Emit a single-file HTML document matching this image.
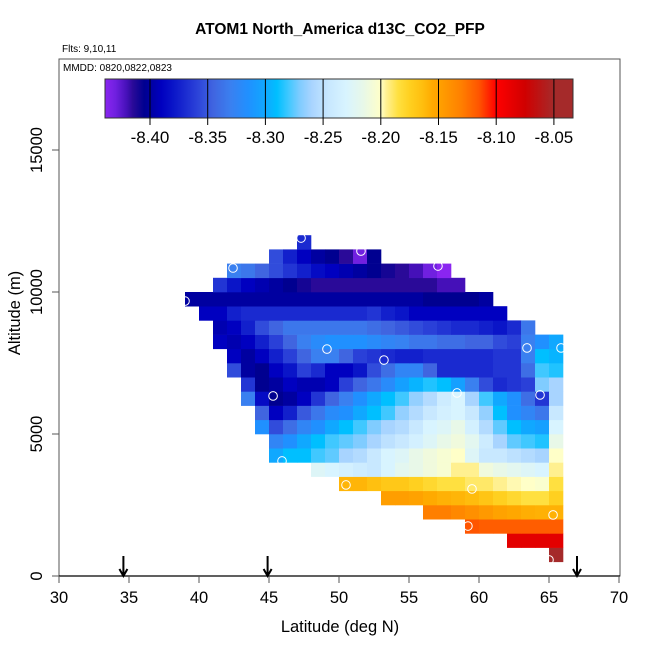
<!DOCTYPE html>
<html><head><meta charset="utf-8"><style>
html,body{margin:0;padding:0;background:#fff;}
svg{display:block;font-family:"Liberation Sans",Arial,sans-serif;}
</style></head><body>
<svg id="chart" width="650" height="650" viewBox="0 0 650 650" xmlns="http://www.w3.org/2000/svg">
<rect width="650" height="650" fill="#fff"/>
<text x="340" y="34" font-size="15.5" font-weight="bold" text-anchor="middle">ATOM1 North_America d13C_CO2_PFP</text>
<text x="62" y="52" font-size="10">Flts: 9,10,11</text>
<g id="cells"></g>
<g id="pts"></g>
<rect x="59" y="59" width="561" height="517" fill="none" stroke="#555" stroke-width="1"/>
<line x1="59" y1="576" x2="620" y2="576" stroke="#000" stroke-width="1.3"/>
<text x="63" y="71" font-size="10">MMDD: 0820,0822,0823</text>
<g id="cbar"></g>
<g id="axes"></g>
<g id="arrows"></g>
<text x="340" y="632" font-size="16.5" text-anchor="middle">Latitude (deg N)</text>
<text transform="translate(20,313) rotate(-90)" font-size="16.5" text-anchor="middle">Altitude (m)</text>
</svg>
<script>
// ---- data ----
const altBinBottoms = [500,1000,1500,2000,2500,3000,3500,4000,4500,5000,5500,6000,6500,7000,7500,8000,8500,9000,9500,10000,10500,11000,11500];
const rowFirstLat = [65,62,59,56,53,50,48,45,45,44,44,43,43,42,42,41,41,40,39,41,42,45,47];
const rowValues = [
 [-8.04],
 [-8.085,-8.085,-8.085,-8.085],
 [-8.115,-8.118,-8.118,-8.118,-8.118,-8.118,-8.118],
 [-8.13,-8.13,-8.135,-8.14,-8.145,-8.15,-8.153,-8.157,-8.158,-8.158],
 [-8.148,-8.148,-8.15,-8.155,-8.158,-8.16,-8.163,-8.168,-8.175,-8.18,-8.185,-8.185,-8.175],
 [-8.16,-8.16,-8.165,-8.17,-8.17,-8.175,-8.18,-8.185,-8.185,-8.19,-8.19,-8.195,-8.198,-8.20,-8.203,-8.185],
 [-8.225,-8.23,-8.235,-8.24,-8.245,-8.23,-8.22,-8.215,-8.21,-8.205,-8.195,-8.195,-8.21,-8.215,-8.22,-8.225,-8.23,-8.195],
 [-8.30,-8.29,-8.29,-8.28,-8.275,-8.26,-8.255,-8.245,-8.23,-8.225,-8.215,-8.21,-8.205,-8.20,-8.225,-8.245,-8.245,-8.25,-8.255,-8.26,-8.20],
 [-8.325,-8.315,-8.30,-8.29,-8.28,-8.275,-8.27,-8.26,-8.25,-8.245,-8.235,-8.225,-8.215,-8.21,-8.22,-8.24,-8.26,-8.275,-8.28,-8.285,-8.215],
 [-8.315,-8.355,-8.34,-8.325,-8.315,-8.30,-8.29,-8.28,-8.27,-8.26,-8.255,-8.245,-8.23,-8.225,-8.215,-8.235,-8.255,-8.275,-8.29,-8.30,-8.305,-8.23],
 [-8.345,-8.39,-8.375,-8.35,-8.335,-8.32,-8.315,-8.30,-8.29,-8.28,-8.265,-8.255,-8.245,-8.235,-8.23,-8.245,-8.265,-8.29,-8.315,-8.325,-8.335,-8.245],
 [-8.33,-8.385,-8.405,-8.40,-8.39,-8.365,-8.345,-8.33,-8.315,-8.30,-8.29,-8.28,-8.265,-8.255,-8.24,-8.23,-8.26,-8.28,-8.30,-8.315,-8.34,-8.365,-8.26],
 [-8.365,-8.405,-8.40,-8.39,-8.395,-8.395,-8.39,-8.36,-8.345,-8.335,-8.32,-8.305,-8.295,-8.285,-8.29,-8.305,-8.33,-8.355,-8.37,-8.365,-8.36,-8.27,-8.26],
 [-8.355,-8.40,-8.405,-8.39,-8.38,-8.36,-8.37,-8.39,-8.39,-8.38,-8.355,-8.34,-8.325,-8.325,-8.345,-8.37,-8.37,-8.37,-8.37,-8.365,-8.365,-8.34,-8.28,-8.285],
 [-8.39,-8.40,-8.39,-8.375,-8.36,-8.345,-8.33,-8.33,-8.345,-8.36,-8.365,-8.37,-8.375,-8.375,-8.37,-8.37,-8.37,-8.37,-8.37,-8.365,-8.365,-8.33,-8.29,-8.295],
 [-8.39,-8.395,-8.39,-8.375,-8.36,-8.345,-8.33,-8.32,-8.315,-8.315,-8.315,-8.32,-8.325,-8.328,-8.335,-8.335,-8.34,-8.34,-8.345,-8.345,-8.355,-8.36,-8.33,-8.315,-8.30],
 [-8.395,-8.39,-8.375,-8.355,-8.345,-8.335,-8.335,-8.335,-8.335,-8.335,-8.335,-8.34,-8.345,-8.35,-8.355,-8.36,-8.365,-8.37,-8.37,-8.375,-8.38,-8.37,-8.335],
 [-8.39,-8.39,-8.375,-8.37,-8.37,-8.37,-8.37,-8.37,-8.37,-8.37,-8.37,-8.37,-8.365,-8.375,-8.38,-8.39,-8.39,-8.39,-8.39,-8.39,-8.39,-8.39],
 [-8.40,-8.40,-8.40,-8.40,-8.40,-8.40,-8.40,-8.40,-8.40,-8.40,-8.40,-8.40,-8.40,-8.40,-8.40,-8.40,-8.40,-8.405,-8.405,-8.405,-8.405,-8.40],
 [-8.365,-8.38,-8.39,-8.395,-8.40,-8.405,-8.41,-8.415,-8.415,-8.415,-8.415,-8.415,-8.415,-8.415,-8.415,-8.415,-8.42,-8.42],
 [-8.33,-8.335,-8.345,-8.355,-8.365,-8.375,-8.385,-8.39,-8.395,-8.40,-8.405,-8.41,-8.415,-8.42,-8.43,-8.44],
 [-8.355,-8.375,-8.39,-8.40,-8.405,-8.415,-8.43,-8.405],
 [-8.37]
];
const pointLats = [47.29,51.57,42.43,57.07,39.0,49.14,53.21,58.43,63.43,65.86,64.36,45.29,45.93,50.5,59.5,65.29,59.21,65.0];
const pointAlts = [11900,11440,10845,10915,9680,7990,7605,6445,8030,8030,6375,6340,4050,3205,3065,2150,1760,565];
const arrowLats = [34.6,44.9,67.0];
const xTicks = [30,35,40,45,50,55,60,65,70];
const yTicks = [0,5000,10000,15000];
const cbarTicks = [-8.40,-8.35,-8.30,-8.25,-8.20,-8.15,-8.10,-8.05];
const colorStopVals = [-8.44,-8.43,-8.42,-8.415,-8.405,-8.40,-8.39,-8.38,-8.37,-8.36,-8.345,-8.33,-8.315,-8.30,-8.29,-8.28,-8.27,-8.26,-8.245,-8.23,-8.215,-8.20,-8.195,-8.185,-8.175,-8.165,-8.155,-8.145,-8.13,-8.115,-8.10,-8.075,-8.05,-8.02];
const colorStopCols = ['#8a25f0','#7020e0','#4510b8','#2a0a98','#000090','#0000a0','#0000c0','#0a15c8','#1a2ad0','#2a40d8','#4065e0','#3a80f0','#2090ff','#10a8ff','#00bfff','#40c8ff','#80ccff','#a8d4ff','#c8e8ff','#d8f4ff','#e8f8e8','#ffffc8','#fff090','#ffe040','#ffd020','#ffc010','#ffaa00','#ff9900','#ff7f00','#ff5500','#ff0000','#d00000','#a52a2a','#a52a2a'];

// ---- scales ----
const NS='http://www.w3.org/2000/svg';
const xS = lat => 59 + (lat-30)*14;
const yS = alt => 576 - alt*0.0284;
const cbX = v => 150 + (v+8.40)*1154;
function hex(h){return [1,3,5].map(i=>parseInt(h.substr(i,2),16));}
function colorOf(v){
  if(v<=colorStopVals[0]) return colorStopCols[0];
  for(let i=1;i<colorStopVals.length;i++){
    if(v<=colorStopVals[i]){
      const t=(v-colorStopVals[i-1])/(colorStopVals[i]-colorStopVals[i-1]);
      const a=hex(colorStopCols[i-1]), b=hex(colorStopCols[i]);
      return 'rgb('+a.map((x,k)=>Math.round(x+(b[k]-x)*t)).join(',')+')';
    }
  }
  return colorStopCols[colorStopCols.length-1];
}
function mk(tag,attrs,parent){const e=document.createElementNS(NS,tag);for(const k in attrs)e.setAttribute(k,attrs[k]);parent.appendChild(e);return e;}

// ---- cells ----
const gc=document.getElementById('cells');
rowValues.forEach((vals,r)=>{
  const a0=altBinBottoms[r];
  vals.forEach((v,i)=>{
    const lat=rowFirstLat[r]+i;
    const x0=xS(lat), x1=xS(lat+1), yT=yS(a0+500), yB=yS(a0);
    const el=mk('rect',{x:x0,y:yT,width:x1-x0+0.3,height:yB-yT+0.3,fill:colorOf(v)},gc);
    
    
  });
});
// ---- points ----
const gp=document.getElementById('pts');
pointLats.forEach((lat,i)=>{
  const el=mk('circle',{cx:xS(lat),cy:yS(pointAlts[i]),r:4.3,fill:'none',stroke:'#fff','stroke-width':1},gp);
  
  
});
// ---- colorbar ----
const gb=document.getElementById('cbar');
const defs=mk('defs',{},gb);
const lg=mk('linearGradient',{id:'cg',x1:105,x2:573,y1:0,y2:0,gradientUnits:'userSpaceOnUse'},defs);
colorStopVals.forEach((v,i)=>{mk('stop',{offset:Math.max(0,Math.min(1,(cbX(v)-105)/468)),'stop-color':colorStopCols[i]},lg);});
const cb=mk('rect',{x:105,y:79,width:468,height:39,fill:'url(#cg)',stroke:'#333','stroke-width':1},gb);


cbarTicks.forEach(v=>{
  const x=cbX(v);
  const l=mk('line',{x1:x,y1:79,x2:x,y2:125,stroke:'#000','stroke-width':1},gb);
  
  
  const t=mk('text',{x:x,y:143,'font-size':17,'text-anchor':'middle'},gb);
  t.textContent=v.toFixed(2);
  
  
});
// ---- axes ----
const ga=document.getElementById('axes');
xTicks.forEach(v=>{
  const x=xS(v);
  const l=mk('line',{x1:x,y1:576,x2:x,y2:583,stroke:'#555'},ga);
  
  
  const t=mk('text',{x:x,y:603,'font-size':16.5,'text-anchor':'middle'},ga);
  t.textContent=v;
  
  
});
yTicks.forEach(v=>{
  const y=yS(v);
  const l=mk('line',{x1:52,y1:y,x2:59,y2:y,stroke:'#555'},ga);
  
  
  const t=mk('text',{transform:'translate(42,'+y+') rotate(-90)','font-size':16.5,'text-anchor':'middle'},ga);
  t.textContent=v;
  
  
});
// ---- arrows ----
const gr=document.getElementById('arrows');
arrowLats.forEach(lat=>{
  const x=xS(lat);
  const p=mk('path',{d:'M'+x+' 556 L'+x+' 576 M'+(x-4)+' 569 L'+x+' 576 L'+(x+4)+' 569',stroke:'#000','stroke-width':2,fill:'none'},gr);
  
  
});
</script>
</body></html>
